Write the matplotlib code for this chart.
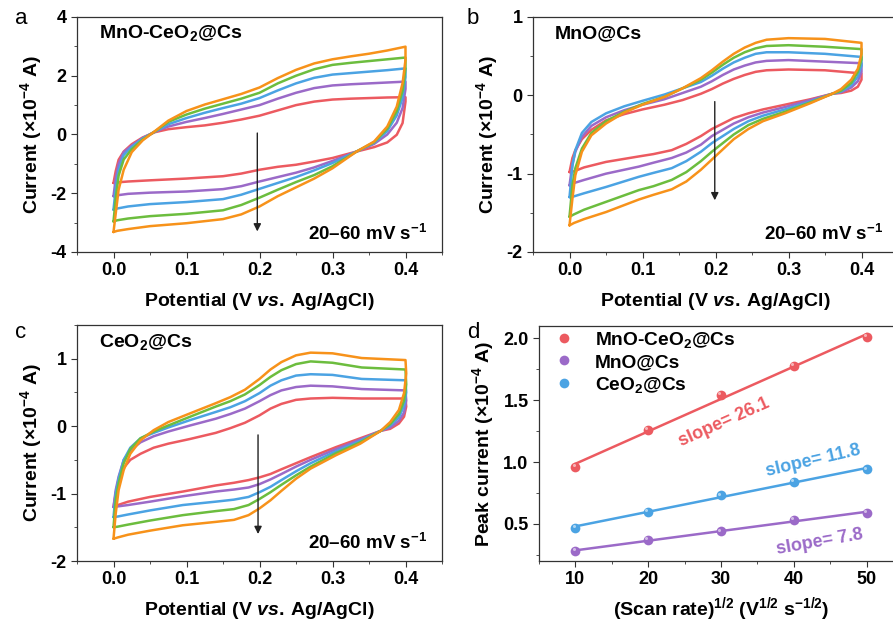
import numpy as np
import matplotlib
matplotlib.use('Agg')
import matplotlib.pyplot as plt
from matplotlib.ticker import MultipleLocator
from matplotlib.transforms import offset_copy

# ── Style ─────────────────────────────────────────────────────────────────────
plt.rcParams.update({
    'font.family':        ['Liberation Sans', 'DejaVu Sans'],
    'font.weight':        'bold',
    'axes.labelweight':   'bold',
    'font.size':          13,
    'axes.labelsize':     14,
    'axes.unicode_minus': False,
    'mathtext.fontset':   'custom',
    'mathtext.default':   'regular',
    'mathtext.rm':        'Liberation Sans:bold',
    'mathtext.it':        'Liberation Sans:italic:bold',
    'mathtext.bf':        'Liberation Sans:bold',
    'axes.linewidth':     0.9,
    'axes.edgecolor':     '#333333',
    'xtick.direction':    'out',
    'ytick.direction':    'out',
    'xtick.major.size':   4,
    'ytick.major.size':   4,
    'xtick.minor.size':   2.5,
    'ytick.minor.size':   2.5,
    'xtick.color':        '#333333',
    'ytick.color':        '#333333',
    'xtick.labelcolor':   'black',
    'ytick.labelcolor':   'black',
})

# scan rates 20, 30, 40, 50, 60 mV/s
COLORS = ['#EC5A60', '#9B6AC8', '#4BA3E3', '#6CBD3E', '#F7921A']

# ── Panel a: MnO-CeO2@Cs ──────────────────────────────────────────────────────
A_V_UP = [0, 0.003, 0.007, 0.014, 0.025, 0.04, 0.057, 0.075, 0.1, 0.125, 0.15,
          0.175, 0.2, 0.225, 0.25, 0.275, 0.3, 0.325, 0.35, 0.375, 0.4]
A_V_DN = [0.4, 0.4, 0.396, 0.388, 0.375, 0.357, 0.333, 0.3, 0.275, 0.25, 0.225,
          0.2, 0.175, 0.15, 0.1, 0.05, 0.02, 0.005, 0]
A_UP = [
    [-1.65, -1.25, -0.86, -0.58, -0.33, -0.10, 0.08, 0.18, 0.25, 0.31, 0.40, 0.51, 0.64, 0.82, 1.00, 1.12, 1.19, 1.22, 1.24, 1.26, 1.27],
    [-2.10, -1.50, -1.00, -0.60, -0.38, -0.12, 0.10, 0.27, 0.43, 0.56, 0.70, 0.85, 1.00, 1.22, 1.42, 1.58, 1.67, 1.71, 1.74, 1.77, 1.80],
    [-2.56, -1.85, -1.20, -0.70, -0.42, -0.14, 0.10, 0.35, 0.56, 0.74, 0.90, 1.05, 1.24, 1.50, 1.74, 1.93, 2.04, 2.09, 2.14, 2.19, 2.25],
    [-2.96, -2.20, -1.40, -0.85, -0.50, -0.17, 0.11, 0.43, 0.68, 0.88, 1.05, 1.22, 1.42, 1.74, 2.00, 2.22, 2.37, 2.44, 2.50, 2.56, 2.62],
    [-3.32, -2.70, -1.88, -1.20, -0.60, -0.20, 0.12, 0.47, 0.80, 1.02, 1.20, 1.38, 1.60, 1.92, 2.20, 2.42, 2.56, 2.66, 2.75, 2.86, 2.99],
]
A_DN = [
    [1.27, 1.12, 0.39, -0.01, -0.27, -0.43, -0.58, -0.80, -0.92, -1.03, -1.10, -1.20, -1.33, -1.42, -1.50, -1.56, -1.60, -1.63, -1.65],
    [1.80, 1.55, 0.90, 0.40, 0.00, -0.32, -0.58, -0.90, -1.12, -1.30, -1.45, -1.60, -1.76, -1.86, -1.94, -1.98, -2.02, -2.07, -2.10],
    [2.25, 1.95, 1.25, 0.65, 0.12, -0.28, -0.58, -0.97, -1.22, -1.45, -1.65, -1.85, -2.05, -2.20, -2.30, -2.37, -2.45, -2.52, -2.56],
    [2.62, 2.25, 1.50, 0.80, 0.20, -0.26, -0.58, -1.08, -1.38, -1.62, -1.88, -2.15, -2.40, -2.58, -2.70, -2.78, -2.86, -2.92, -2.96],
    [2.99, 2.54, 1.75, 0.95, 0.27, -0.24, -0.58, -1.15, -1.50, -1.80, -2.10, -2.45, -2.72, -2.88, -3.02, -3.12, -3.22, -3.28, -3.32],
]

# ── Panel b: MnO@Cs ───────────────────────────────────────────────────────────
B_V_UP = [0, 0.004, 0.008, 0.017, 0.03, 0.05, 0.075, 0.1, 0.13, 0.155, 0.18,
          0.195, 0.21, 0.225, 0.24, 0.255, 0.27, 0.3, 0.35, 0.4]
B_V_DN = [0.4, 0.4, 0.395, 0.386, 0.372, 0.36, 0.33, 0.295, 0.265, 0.245,
          0.225, 0.21, 0.195, 0.18, 0.16, 0.14, 0.115, 0.095, 0.05, 0.02,
          0.006, 0]
B_UP = [
    [-0.98, -0.80, -0.70, -0.56, -0.44, -0.32, -0.24, -0.18, -0.12, -0.06, 0.02, 0.08, 0.15, 0.21, 0.26, 0.30, 0.32, 0.33, 0.32, 0.28],
    [-1.15, -0.88, -0.72, -0.53, -0.39, -0.28, -0.19, -0.12, -0.05, 0.03, 0.11, 0.18, 0.26, 0.33, 0.38, 0.42, 0.44, 0.45, 0.43, 0.41],
    [-1.30, -0.90, -0.70, -0.48, -0.34, -0.23, -0.14, -0.07, 0.01, 0.09, 0.17, 0.25, 0.34, 0.42, 0.48, 0.53, 0.55, 0.55, 0.53, 0.49],
    [-1.55, -1.15, -0.93, -0.68, -0.48, -0.33, -0.21, -0.11, -0.02, 0.09, 0.20, 0.29, 0.39, 0.48, 0.55, 0.60, 0.63, 0.64, 0.62, 0.59],
    [-1.66, -1.32, -1.02, -0.72, -0.51, -0.36, -0.22, -0.12, -0.02, 0.09, 0.22, 0.32, 0.43, 0.53, 0.61, 0.67, 0.71, 0.73, 0.72, 0.67],
]
B_DN = [
    [0.28, 0.20, 0.11, 0.06, 0.03, 0.02, -0.05, -0.12, -0.18, -0.23, -0.29, -0.36, -0.43, -0.52, -0.62, -0.70, -0.75, -0.78, -0.85, -0.92, -0.97, -0.98],
    [0.41, 0.30, 0.18, 0.10, 0.04, 0.02, -0.06, -0.15, -0.22, -0.28, -0.36, -0.44, -0.52, -0.63, -0.73, -0.80, -0.86, -0.91, -1.00, -1.08, -1.12, -1.15],
    [0.49, 0.38, 0.24, 0.13, 0.05, 0.02, -0.08, -0.18, -0.26, -0.33, -0.43, -0.52, -0.61, -0.72, -0.84, -0.93, -0.99, -1.04, -1.17, -1.25, -1.29, -1.30],
    [0.59, 0.46, 0.30, 0.16, 0.06, 0.02, -0.09, -0.21, -0.30, -0.38, -0.50, -0.61, -0.72, -0.84, -0.98, -1.08, -1.16, -1.21, -1.36, -1.46, -1.52, -1.55],
    [0.67, 0.53, 0.34, 0.20, 0.08, 0.02, -0.10, -0.23, -0.33, -0.43, -0.56, -0.69, -0.82, -0.95, -1.10, -1.20, -1.27, -1.33, -1.49, -1.58, -1.63, -1.66],
]

# ── Panel c: CeO2@Cs ──────────────────────────────────────────────────────────
C_V_UP = [0, 0.003, 0.007, 0.014, 0.023, 0.037, 0.055, 0.075, 0.105, 0.14,
          0.16, 0.18, 0.2, 0.215, 0.23, 0.25, 0.27, 0.3, 0.34, 0.4]
C_V_DN = [0.4, 0.401, 0.398, 0.391, 0.379, 0.366, 0.338, 0.305, 0.27, 0.25,
          0.23, 0.215, 0.2, 0.185, 0.165, 0.14, 0.095, 0.05, 0.02, 0.006, 0]
C_UP = [
    [-1.20, -1.00, -0.80, -0.62, -0.50, -0.41, -0.32, -0.26, -0.19, -0.10, -0.03, 0.05, 0.16, 0.26, 0.33, 0.39, 0.41, 0.42, 0.41, 0.41],
    [-1.20, -0.95, -0.75, -0.50, -0.36, -0.24, -0.15, -0.08, 0.01, 0.11, 0.18, 0.26, 0.37, 0.46, 0.53, 0.58, 0.60, 0.59, 0.55, 0.53],
    [-1.35, -1.00, -0.78, -0.50, -0.32, -0.18, -0.10, -0.02, 0.09, 0.21, 0.28, 0.37, 0.49, 0.60, 0.68, 0.75, 0.77, 0.76, 0.70, 0.68],
    [-1.50, -1.10, -0.85, -0.55, -0.34, -0.18, -0.08, 0.01, 0.14, 0.29, 0.37, 0.47, 0.61, 0.73, 0.83, 0.92, 0.96, 0.94, 0.87, 0.84],
    [-1.67, -1.30, -0.95, -0.65, -0.41, -0.21, -0.06, 0.06, 0.19, 0.34, 0.43, 0.54, 0.70, 0.84, 0.95, 1.05, 1.09, 1.08, 1.01, 0.98],
]
C_DN = [
    [0.41, 0.29, 0.14, 0.04, -0.04, -0.07, -0.18, -0.31, -0.46, -0.55, -0.64, -0.71, -0.76, -0.80, -0.84, -0.88, -0.97, -1.05, -1.12, -1.17, -1.20],
    [0.53, 0.38, 0.20, 0.08, -0.02, -0.07, -0.20, -0.34, -0.50, -0.60, -0.71, -0.79, -0.86, -0.91, -0.94, -0.97, -1.04, -1.12, -1.17, -1.19, -1.20],
    [0.68, 0.50, 0.30, 0.13, 0.01, -0.07, -0.22, -0.37, -0.55, -0.67, -0.80, -0.90, -0.98, -1.05, -1.09, -1.12, -1.17, -1.25, -1.31, -1.34, -1.35],
    [0.84, 0.62, 0.38, 0.18, 0.03, -0.07, -0.24, -0.40, -0.60, -0.73, -0.87, -0.98, -1.08, -1.17, -1.23, -1.26, -1.32, -1.40, -1.46, -1.49, -1.50],
    [0.98, 0.78, 0.49, 0.24, 0.06, -0.07, -0.26, -0.43, -0.63, -0.78, -0.96, -1.10, -1.22, -1.32, -1.39, -1.42, -1.47, -1.55, -1.61, -1.65, -1.67],
]

# ── Panel d: peak current vs sqrt(scan rate) ──────────────────────────────────
D_X = [10, 20, 30, 40, 50]
D_MNO_CEO2 = [0.96, 1.26, 1.54, 1.78, 2.01]
D_MNO = [0.28, 0.37, 0.44, 0.53, 0.59]
D_CEO2 = [0.47, 0.60, 0.73, 0.84, 0.94]

CV_XLABEL = r'Potential (V $\mathit{vs.}\,$Ag/AgCl)'
CV_YLABEL = r'Current ($\times$10$^{-4}$ A)'
RATE_TEXT = r'20–60 mV s$^{-1}$'


def cv_panel(ax, v_up, v_dn, up, dn, ylim, ymaj, ymin, name, arrow):
    for col, iu, idn in zip(COLORS, up, dn):
        ax.plot(v_up + v_dn, iu + idn, color=col, lw=1.8,
                solid_joinstyle='round', solid_capstyle='round')
    ax.set_xlim(-0.05, 0.45)
    ax.set_ylim(*ylim)
    ax.xaxis.set_major_locator(MultipleLocator(0.1))
    ax.xaxis.set_minor_locator(MultipleLocator(0.05))
    ax.yaxis.set_major_locator(MultipleLocator(ymaj))
    ax.yaxis.set_minor_locator(MultipleLocator(ymin))
    ax.xaxis.set_major_formatter(plt.FormatStrFormatter('%.1f'))
    ax.set_xlabel(CV_XLABEL, labelpad=8)
    ax.set_ylabel(CV_YLABEL, labelpad=5)
    ax.text(0.06, 0.93, name, transform=ax.transAxes, ha='left', va='center',
            fontsize=14)
    ax.text(0.958, 0.075, RATE_TEXT, transform=ax.transAxes, ha='right',
            va='center', fontsize=13.5)
    (x0, y0), (x1, y1) = arrow
    ax.annotate('', xy=(x1, y1), xytext=(x0, y0),
                arrowprops=dict(arrowstyle='-|>', color='#222222', lw=1.0,
                                mutation_scale=11, shrinkA=0, shrinkB=0))


def ball(ax, x, y, color):
    ax.plot(x, y, 'o', ms=7, color=color, mec='none', zorder=4)
    hl = offset_copy(ax.transData, fig=ax.figure, x=-1.3, y=1.3, units='points')
    ax.plot(x, y, 'o', ms=2.2, color='white', alpha=0.55, mec='none',
            transform=hl, zorder=5)


fig = plt.figure(figsize=(8.93, 6.23), dpi=100)
W, H = 893.0, 623.0


def add_axes(left, right, top, bottom):
    return fig.add_axes([left / W, 1 - bottom / H, (right - left) / W, (bottom - top) / H])


ax_a = add_axes(77, 442, 17, 252)
ax_b = add_axes(533, 898, 17, 252)
ax_c = add_axes(77, 442, 325, 561)
ax_d = add_axes(539, 903, 326, 561)

cv_panel(ax_a, A_V_UP, A_V_DN, A_UP, A_DN, (-4, 4), 2, 1, r'MnO-CeO$_2$@Cs',
         ((0.197, 0.05), (0.197, -3.3)))
cv_panel(ax_b, B_V_UP, B_V_DN, B_UP, B_DN, (-2, 1), 1, 0.5, 'MnO@Cs',
         ((0.199, -0.08), (0.199, -1.34)))
cv_panel(ax_c, C_V_UP, C_V_DN, C_UP, C_DN, (-2, 1.5), 1, 0.5, r'CeO$_2$@Cs',
         ((0.198, -0.13), (0.198, -1.6)))

# panel d
series = [
    (D_MNO_CEO2, COLORS[0], r'MnO-CeO$_2$@Cs'),
    (D_MNO, COLORS[1], 'MnO@Cs'),
    (D_CEO2, COLORS[2], r'CeO$_2$@Cs'),
]
xs = np.array(D_X, dtype=float)
for ys, col, lab in series:
    k, b = np.polyfit(xs, ys, 1)
    ax_d.plot(xs[[0, -1]], k * xs[[0, -1]] + b, color=col, lw=1.8, zorder=3)
    ball(ax_d, xs, ys, col)
    ax_d.plot([], [], 'o', ms=7, color=col, mec='none', label=lab)

ax_d.set_xlim(5, 55)
ax_d.set_ylim(0.2, 2.1)
ax_d.xaxis.set_major_locator(MultipleLocator(10))
ax_d.xaxis.set_minor_locator(MultipleLocator(5))
ax_d.yaxis.set_major_locator(MultipleLocator(0.5))
ax_d.yaxis.set_minor_locator(MultipleLocator(0.25))
ax_d.yaxis.set_major_formatter(plt.FormatStrFormatter('%.1f'))
ax_d.set_xlabel(r'(Scan rate)$^{1/2}$ (V$^{1/2}$ s$^{-1/2}$)', labelpad=5)
ax_d.set_ylabel(r'Peak current ($\times$10$^{-4}$ A)', labelpad=5)
ax_d.legend(loc='upper left', frameon=False, fontsize=13.8, handletextpad=0.8,
            borderaxespad=0.1, labelspacing=0.2, handlelength=1.6,
            bbox_to_anchor=(0.0, 1.025))

ax_d.text(30.4, 1.32, 'slope= 26.1', color=COLORS[0], rotation=24,
          ha='center', va='center', fontsize=13)
ax_d.text(42.7, 1.01, 'slope= 11.8', color=COLORS[2], rotation=13,
          ha='center', va='center', fontsize=13)
ax_d.text(43.6, 0.35, 'slope= 7.8', color=COLORS[1], rotation=10,
          ha='center', va='center', fontsize=13)

for ax in (ax_a, ax_b, ax_c, ax_d):
    ax.tick_params(axis='both', which='both', top=False, right=False)
    ax.tick_params(axis='both', labelsize=13)

# panel letters
for x, y, s in [(21, 19, 'a'), (473, 19, 'b'), (21, 333, 'c'), (473, 332, 'd')]:
    fig.text(x / W, 1 - y / H, s, ha='center', va='center', fontsize=16,
             fontweight='normal')

fig.savefig('out.png', dpi=100)
